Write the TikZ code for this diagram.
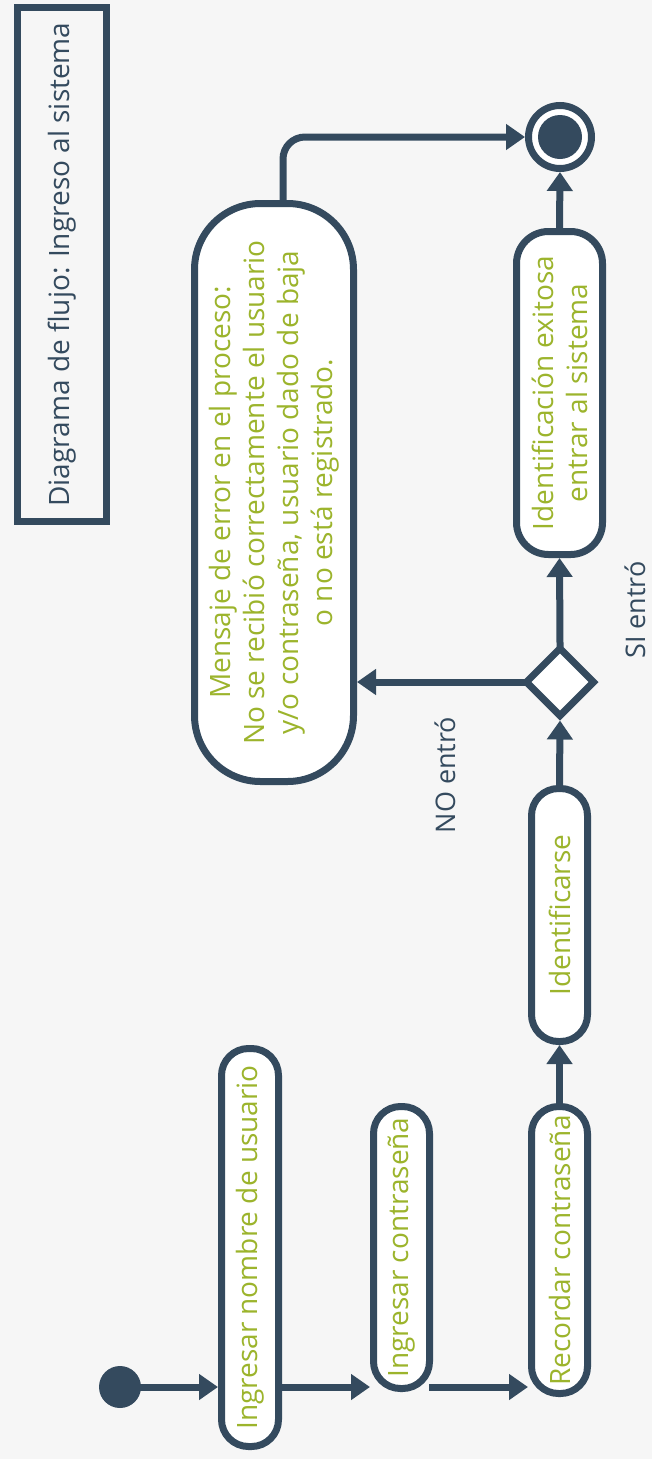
\documentclass[tikz,border=0pt]{standalone}
\usepackage{fontspec}
\setmainfont{Open Sans}
\usetikzlibrary{arrows.meta,shapes.geometric}
\definecolor{slate}{HTML}{344A5E}
\definecolor{leaf}{HTML}{9CB42C}
\definecolor{bgpale}{HTML}{F6F6F6}
\begin{document}
\begin{tikzpicture}[x=1pt,y=-1pt,
  every node/.style={inner sep=0pt},
  act/.style={draw=slate, line width=7pt, fill=white, rounded corners=27pt,
    rotate=90, text=leaf, align=center, font=\fontsize{28}{34}\selectfont},
  lbl/.style={text=slate, rotate=90, font=\fontsize{27}{30}\selectfont},
  arr/.style={draw=slate, line width=7pt, shorten <=-4pt, -{Triangle[length=19pt,width=25pt]}},
]
% canvas
\fill[bgpale] (0,0) rectangle (652,1459);
\useasboundingbox (0,0) rectangle (652,1459);

% title frame
\node[draw=slate, line width=7pt, rotate=90, minimum width=514pt, minimum height=89pt,
  text=slate, font=\fontsize{28}{30}\selectfont] (title) at (62,264.5)
  {Diagrama de flujo: Ingreso al sistema};

% start and end states
\node[circle, fill=slate, minimum size=42pt] (start) at (120,1387) {};
\node[circle, draw=slate, line width=7pt, fill=white, minimum size=63pt] (end) at (560,137) {};
\fill[slate] (end) circle (22pt);

% activities
\node[act, minimum width=398pt, minimum height=57pt] (b1) at (250,1247.5) {Ingresar nombre de usuario};
\node[act, minimum width=282pt, minimum height=56pt] (b2) at (401.5,1247.5) {Ingresar contraseña};
\node[act, minimum width=287pt, minimum height=56pt] (b3) at (559.5,1250) {Recordar contraseña};
\node[act, minimum width=253pt, minimum height=56pt] (b4) at (559.5,915) {Identificarse};
\node[act, minimum width=323pt, minimum height=86pt, rounded corners=32pt] (b5) at (559.5,393)
  {Identificación exitosa\\entrar al sistema};
\node[act, minimum width=578pt, minimum height=159pt, rounded corners=66pt] (b6) at (274,492.5)
  {Mensaje de error en el proceso:\\No se recibió correctamente el usuario\\y/o contraseña, usuario dado de baja\\o no está registrado.};

% decision
\node[diamond, draw=slate, line width=7pt, fill=white, minimum width=70pt, minimum height=70pt] (dec) at (560,682) {};

% guard labels
\node[lbl] (no) at (445,775) {NO entró};
\node[lbl] (si) at (635,610) {SI entró};

% flow
\draw[arr] (start) -- (start -| b1.north);
\draw[arr] (start -| b1.south) -- (start -| b2.north);
\draw[arr] (start -| b2.south) -- (start -| b3.north);
\draw[arr] (b3.east) -- (b4.west);
\draw[arr] (b4.east) -- (dec.south);
\draw[arr] (dec.north) -- (b5.west);
\draw[arr] (b5.east) -- (end.south);
\draw[arr] (dec.west) -- (dec.west -| b6.south);
\draw[arr, rounded corners=22pt] ([xshift=9pt]b6.east) |- (end.west);
\end{tikzpicture}
\end{document}
